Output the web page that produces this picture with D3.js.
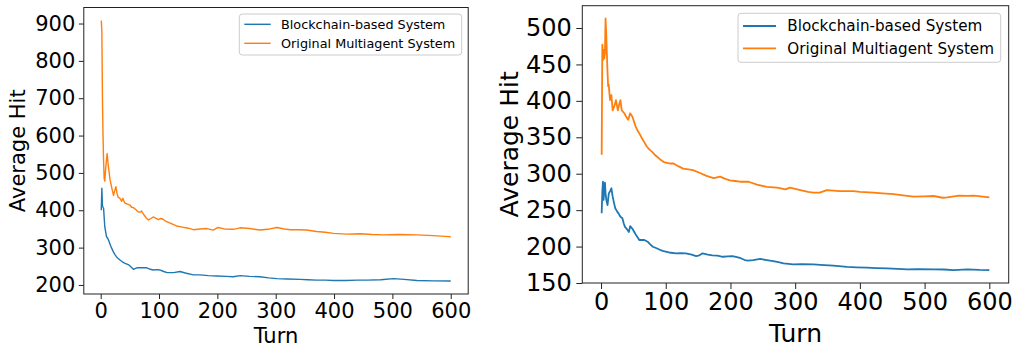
<!DOCTYPE html>
<html>
<head>
<meta charset="utf-8">
<script src="https://cdn.jsdelivr.net/npm/d3@7"></script>
<style>
  body { margin: 0; background: #fff; }
  text { font-family: "DejaVu Sans", sans-serif; }
</style>
</head>
<body>
<div id="visContainer"></div>
<script>
// series labels
const seriesNames = ["Blockchain-based System", "Original Multiagent System"];
const seriesColors = ["#1f77b4", "#ff7f0e"];

// left panel: [turn, average hit]
const leftBlockchain = [[1,400],[2,459],[3,412],[4,408],[5,405],[6,380],[7,356],[9,338],[10,329],[12,325],[14,318],[17,305],[19,298],[22,288],[25,280],[29,272],[33,267],[37,262],[42,258],[45,256],[48,254],[52,248],[56,242],[59,244],[62,246],[70,246],[79,246],[85,242],[90,240],[96,241],[102,240],[108,236],[114,233],[125,233],[136,236],[145,232],[159,227],[170,227],[185,225],[199,224],[215,223],[227,222],[239,225],[255,223],[273,222],[288,219],[302,217],[320,216],[342,215],[355,214],[370,213],[385,213],[399,212],[420,212],[440,213],[457,213],[480,214],[502,217],[520,215],[542,212],[570,211],[600,210.7]];
const leftOriginal = [[1,908],[2,880],[3,700],[4,600],[5,530],[6,485],[7,478],[9,520],[11,552],[13,520],[16,482],[19,460],[22,440],[24,452],[26,463],[28,445],[30,435],[33,432],[36,424],[38,432],[41,420],[45,417],[50,414],[53,408],[56,407],[60,402],[64,396],[68,395],[70,398],[74,388],[78,380],[82,374],[86,378],[90,382],[95,378],[99,375],[103,378],[107,376],[112,370],[120,365],[130,358],[140,355],[150,352],[159,348],[170,350],[182,351],[193,347],[201,354],[212,350],[227,349],[239,353],[255,351],[273,347],[290,350],[302,354],[315,350],[325,348],[340,348],[353,347],[370,343],[385,341],[399,338],[422,336],[445,337],[465,335],[485,334],[510,335],[542,334],[570,332],[590,330],[600,329]];

// right panel: [turn, average hit]
const rightBlockchain = [[1,245.6],[2,275],[3,289],[4,264],[5,280],[6,287.7],[7,273],[8,265],[10,257],[12,273],[14,276],[16,280],[18,268.5],[20,260],[22,252.5],[25,248],[27,245.6],[30,241],[33,238.8],[35,232],[37,227],[39,225],[41,222.7],[43,220],[45,228],[47,226],[49,223.7],[52,219],[54,216],[57,212],[59,209],[63,209],[67,209],[72,206.7],[76,203],[80,199.8],[85,198],[90,196],[95,194],[100,193],[108,191.5],[116,190.7],[124,191],[131,190.7],[140,189],[147,187],[152,188],[157,190.7],[165,189],[172,188],[180,187.5],[188,186],[196,186.5],[203,187],[210,185.5],[216,184],[222,181.5],[227,180.6],[235,181.5],[246,183],[256,181.5],[266,180],[274,178.5],[282,177],[297,175.6],[310,176],[328,175.6],[345,174.5],[359,173.8],[380,172],[395,171.5],[411,171],[425,170.5],[442,170],[458,169.5],[473,168.8],[490,169],[514,168.8],[530,168.5],[545,167.8],[566,168.8],[585,168],[600,167.8]];
const rightOriginal = [[1,326],[2,477],[3,456],[4,470],[5,458],[6,466],[7,513],[8,493],[9,465],[10,440],[11,420],[12,422],[13,410],[14,401],[16,408],[18,387],[21,394],[23,401],[26,387],[28,395],[30,401],[32,387],[36,383],[39,378],[42,374],[45,383],[48,379],[50,374],[53,366],[56,360],[60,354],[63,349],[67,343],[71,337],[75,333],[79,330],[83,326],[87,323],[92,319],[97,316],[102,315],[107,314],[112,314],[120,310],[127,307],[135,306],[142,305],[153,301],[163,297],[174,294],[184,296],[192,293],[199,291],[207,290],[215,289],[228,289],[241,285],[256,282],[272,281],[285,278.6],[292,281],[308,277.6],[320,275],[328,274],[338,274],[349,277.6],[369,276],[390,276],[400,275],[421,274],[435,273],[452,272],[470,270],[483,268.5],[500,269],[514,269.4],[528,267],[535,267.6],[553,270],[566,269.6],[576,270],[590,268.5],[600,267.6]];

// tick labels
const xTicks = [0, 100, 200, 300, 400, 500, 600];
const leftYTicks = [200, 300, 400, 500, 600, 700, 800, 900];
const rightYTicks = [150, 200, 250, 300, 350, 400, 450, 500];

const svg = d3.select("#visContainer")
  .append("svg")
  .attr("width", 1017)
  .attr("height", 349);

function drawPanel(cfg) {
  const xScale = d3.scaleLinear().domain([-28.95, 629.95]).range([cfg.left, cfg.right]);
  const yScale = d3.scaleLinear().domain(cfg.yDomain).range([cfg.bottom, cfg.top]);
  const g = svg.append("g");

  const line = d3.line()
    .x((d) => xScale(d[0]))
    .y((d) => yScale(d[1]));

  cfg.series.forEach((s, i) => {
    g.append("path")
      .datum(s)
      .attr("fill", "none")
      .attr("stroke", seriesColors[i])
      .attr("stroke-width", cfg.lineWidth)
      .attr("stroke-linejoin", "round")
      .attr("d", line);
  });

  // axes
  const xAxis = g.append("g")
    .attr("transform", `translate(0, ${cfg.bottom})`)
    .call(d3.axisBottom(xScale).tickValues(xTicks).tickSize(cfg.tickSize).tickPadding(cfg.xPad));
  const yAxis = g.append("g")
    .attr("transform", `translate(${cfg.left}, 0)`)
    .call(d3.axisLeft(yScale).tickValues(cfg.yTicks).tickSize(cfg.tickSize).tickPadding(cfg.yPad));
  [xAxis, yAxis].forEach((a) => {
    a.select(".domain").remove();
    a.selectAll("line").attr("stroke", "#222").attr("stroke-width", 1);
    a.selectAll("text")
      .attr("fill", "#000")
      .style("font-family", "DejaVu Sans")
      .style("font-size", cfg.tickFont + "px");
  });

  // frame
  g.append("rect")
    .attr("x", cfg.left)
    .attr("y", cfg.top)
    .attr("width", cfg.right - cfg.left)
    .attr("height", cfg.bottom - cfg.top)
    .attr("fill", "none")
    .attr("stroke", "#222")
    .attr("stroke-width", 1);

  // axis labels
  g.append("text")
    .attr("x", (cfg.left + cfg.right) / 2)
    .attr("y", cfg.xLabelY)
    .attr("text-anchor", "middle")
    .style("font-size", cfg.labelFont + "px")
    .text("Turn");
  g.append("text")
    .attr("transform", `translate(${cfg.yLabelX}, ${(cfg.top + cfg.bottom) / 2}) rotate(-90)`)
    .attr("text-anchor", "middle")
    .style("font-size", cfg.labelFont + "px")
    .text("Average Hit");

  // legend
  const lg = cfg.legend;
  g.append("rect")
    .attr("x", lg.x)
    .attr("y", lg.y)
    .attr("width", lg.w)
    .attr("height", lg.h)
    .attr("rx", 3)
    .attr("fill", "#fff")
    .attr("fill-opacity", 0.8)
    .attr("stroke", "#cccccc")
    .attr("stroke-width", 1);
  seriesNames.forEach((name, i) => {
    const ry = lg.y + lg.row0 + i * lg.rowGap;
    g.append("line")
      .attr("x1", lg.x + 5)
      .attr("x2", lg.x + 5 + lg.handle)
      .attr("y1", ry)
      .attr("y2", ry)
      .attr("stroke", seriesColors[i])
      .attr("stroke-width", cfg.lineWidth);
    g.append("text")
      .attr("x", lg.x + lg.textOff)
      .attr("y", ry)
      .attr("dy", "0.36em")
      .style("font-size", lg.font + "px")
      .text(name);
  });
}

drawPanel({
  left: 83.8, right: 468.2, top: 7.5, bottom: 294,
  yDomain: [175.8, 942.9], yTicks: leftYTicks,
  series: [leftBlockchain, leftOriginal],
  lineWidth: 1.4, tickSize: 5, xPad: 4, yPad: 3.5,
  tickFont: 21, labelFont: 21, xLabelY: 343, yLabelX: 25,
  legend: { x: 239.3, y: 14, w: 222.4, h: 41, row0: 10.3, rowGap: 19, handle: 26.4, textOff: 41.7, font: 12.8 }
});

drawPanel({
  left: 582.3, right: 1008.7, top: 5.7, bottom: 283,
  yDomain: [150, 530.6], yTicks: rightYTicks,
  series: [rightBlockchain, rightOriginal],
  lineWidth: 1.8, tickSize: 6, xPad: 4, yPad: 4.5,
  tickFont: 24, labelFont: 25, xLabelY: 342, yLabelX: 518,
  legend: { x: 738, y: 13.3, w: 262.7, h: 49, row0: 12.7, rowGap: 22.3, handle: 33, textOff: 49.3, font: 15.2 }
});
</script>
</body>
</html>
